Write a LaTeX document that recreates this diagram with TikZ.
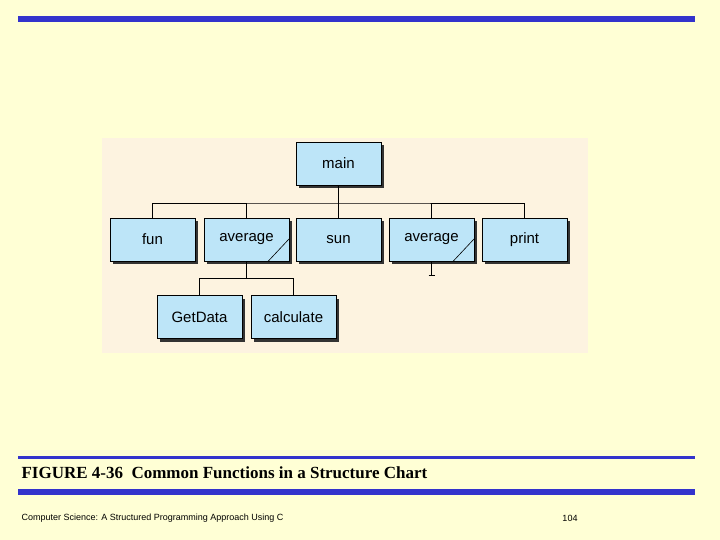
\documentclass[tikz,border=0pt]{standalone}
\usepackage{fontspec}
\setmainfont{Liberation Serif}
\setsansfont{Liberation Sans}
\usetikzlibrary{positioning}
\definecolor{pagebg}{HTML}{FFFFD5}
\definecolor{panelbg}{HTML}{FDF3E0}
\definecolor{barblue}{HTML}{3333CC}
\definecolor{boxblue}{HTML}{BDE5F8}
\tikzset{
  fnbox/.style={draw=black, fill=boxblue, minimum width=85pt, minimum height=43pt,
    font=\sffamily\fontsize{15}{15}\selectfont, inner sep=0pt,
    drop shadow={shadow xshift=3pt, shadow yshift=-3pt, fill=black!80, opacity=1}},
  link/.style={draw=black, line width=0.6pt}
}
\usetikzlibrary{shadows}
\begin{document}
\begin{tikzpicture}[x=1pt,y=-1pt]
\useasboundingbox (0,0) rectangle (720,540);
\fill[pagebg] (0,0) rectangle (720,540);
%Bars
\fill[barblue] (18,16) rectangle (695,22);
\fill[barblue] (18,456) rectangle (695,458.5);
\fill[barblue] (18,489) rectangle (695,495);
\fill[panelbg] (102,138) rectangle (588,353);

%Modules
\node[fnbox] (main) at (338.5,163.5) {main};
\node[fnbox] (fun) at (152.5,239.5) {fun};
\node[fnbox] (avgA) at (246.5,239.5) {average};
\node[fnbox] (sun) at (338.5,239.5) {sun};
\node[fnbox] (avgB) at (431.5,239.5) {average};
\node[fnbox] (print) at (524.5,239.5) {print};
\node[fnbox] (getdata) at (199.5,317) {GetData};
\node[fnbox] (calc) at (293.5,317) {calculate};

%Connections
\draw[link] (main.south) -- (sun.north);
\draw[link] (fun.north) |- (main.south |- 0,203) -| (print.north);
\draw[link] (avgA.north) -- (avgA.north |- 0,203);
\draw[link] (avgB.north) -- (avgB.north |- 0,203);
\draw[link] (avgA.south) -- (avgA.south |- 0,278);
\draw[link] (getdata.north) |- (calc.north |- 0,278) -- (calc.north);
\draw[link] (avgB.south) -- ++(0,14) ++(-3,0) -- ++(6,0);

%Reused marks
\draw[link] ([xshift=-21pt]avgA.south east) -- ([yshift=-21pt]avgA.north east);
\draw[link] ([xshift=-21pt]avgB.south east) -- ([yshift=-21pt]avgB.north east);

%Caption
\node[anchor=west, font=\bfseries\fontsize{17}{17}\selectfont] (cap) at (18,473) {FIGURE 4-36\ \ Common Functions in a Structure Chart};
\node[anchor=west, font=\sffamily\fontsize{9}{9}\selectfont] (foot) at (18,518) {Computer Science: A Structured Programming Approach Using C};
\node[font=\sffamily\fontsize{9}{9}\selectfont] (page) at (570,518) {104};
\end{tikzpicture}
\end{document}
